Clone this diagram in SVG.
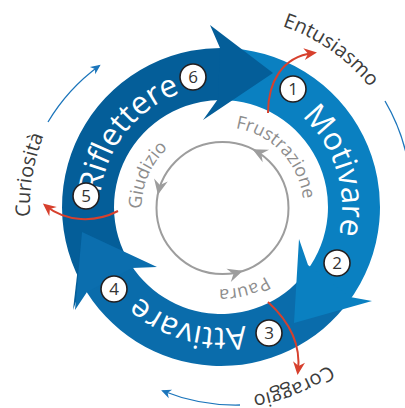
<svg xmlns="http://www.w3.org/2000/svg" width="405" height="408" viewBox="0 0 405 408">
<style>
.band-r{fill:#045e99}
.band-m{fill:#0a80c1}
.band-a{fill:#0a6cab}
.btxt{font-family:"Open Sans","Liberation Sans",sans-serif;font-size:31.5px;fill:#ffffff}
.gtxt{font-family:"Open Sans","Liberation Sans",sans-serif;font-size:18px;fill:#8d8d8d}
.otxt{font-family:"Open Sans","Liberation Sans",sans-serif;font-size:20px;fill:#3c3c3b}
.num circle{fill:#ffffff;stroke:#231f20;stroke-width:1.6}
.num text{font-family:"Open Sans","Liberation Sans",sans-serif;font-size:17px;fill:#333333;text-anchor:middle}
.red{fill:none;stroke:#d7402d;stroke-width:2;marker-end:url(#redHead)}
.blue{fill:none;stroke:#1b75bb;stroke-width:1.3}
.garrow{fill:#9d9d9d}
</style>
<defs>
<path id="pBand" d="M221,86 A121,121 0 1 1 221,328 A121,121 0 1 1 221,86"/>
<path id="pGray" d="M222.5,127 A81,81 0 1 1 222.5,289 A81,81 0 1 1 222.5,127"/>
<path id="pOut" d="M221,16 A191,191 0 1 1 221,398 A191,191 0 1 1 221,16"/>
<marker id="redHead" markerUnits="userSpaceOnUse" markerWidth="16" markerHeight="14" viewBox="-14 -7 16 14" refX="-4" refY="0" orient="auto">
<path d="M0,0 L-13,-6 L-9,0 L-13,6 Z" fill="#d7402d"/>
</marker>
<marker id="blueHead" markerUnits="userSpaceOnUse" markerWidth="12" markerHeight="10" viewBox="-11 -5 12 10" refX="-2" refY="0" orient="auto">
<path d="M0,0 L-10,-4.5 L-7,0 L-10,4.5 Z" fill="#1b75bb"/>
</marker>
<path id="gHead" d="M0,0 L-15,-7 L-10,0 L-15,7 Z"/>
</defs>

<g id="ring">
<path class="band-r" d="M86.17,291.25 A159,159 0 0 1 234.86,48.61 L230.33,100.41 A107,107 0 0 0 130.26,263.70 Z"/>
<path class="band-m" d="M221,48 A159,159 0 0 1 347.98,302.69 L306.45,271.39 A107,107 0 0 0 221,100 Z"/>
<path class="band-a" d="M350.44,299.33 A159,159 0 0 1 81.94,284.09 L127.42,258.87 A107,107 0 0 0 308.11,269.13 Z"/>
<polygon class="band-r" points="220,48 210,25 273,73 203,120 218,99"/>
<polygon class="band-m" points="350,297 372,301 294,323 299,239 308,265"/>
<polygon class="band-r" points="82,232 73,310 78,296"/>
<polygon fill="#0b6eae" points="87,292 75,310 82,232 157,267 132,268"/>
</g>

<g id="band-labels">
<text class="btxt" text-anchor="middle"><textPath href="#pBand" startOffset="20.14%">Motivare</textPath></text>
<text class="btxt" text-anchor="middle"><textPath href="#pBand" startOffset="54.31%">Attivare</textPath></text>
<text class="btxt" text-anchor="middle"><textPath href="#pBand" startOffset="85.69%">Riflettere</textPath></text>
</g>

<g id="connectors">
<circle cx="222.5" cy="208" r="66" fill="none" stroke="#9d9d9d" stroke-width="2"/>
<use href="#gHead" class="garrow" transform="translate(252.5,149.2) rotate(-153)"/>
<use href="#gHead" class="garrow" transform="translate(157.9,194.7) rotate(101.6)"/>
<use href="#gHead" class="garrow" transform="translate(242.9,270.8) rotate(-18)"/>
<path class="red" d="M268,113 C268,82 282,57 313,53"/>
<path class="red" d="M118,211 C95,223 66,222 46,206"/>
<path class="red" d="M268,302 C290,322 301,345 298,371"/>
<path class="blue" d="M48,122 A190,190 0 0 1 99,66" marker-end="url(#blueHead)"/>
<path class="blue" d="M385,101 A193,193 0 0 1 410,175"/>
<path class="blue" d="M240,405 A195,195 0 0 1 163,391" marker-end="url(#blueHead)"/>
</g>

<g id="inner-labels">
<text class="gtxt" text-anchor="middle"><textPath href="#pGray" startOffset="12.92%">Frustrazione</textPath></text>
<text class="gtxt" text-anchor="middle"><textPath href="#pGray" startOffset="81.53%">Giudizio</textPath></text>
<text class="gtxt" text-anchor="middle"><textPath href="#pGray" startOffset="45.83%">Paura</textPath></text>
</g>

<g id="outer-labels">
<text class="otxt" text-anchor="middle"><textPath href="#pOut" startOffset="9.72%">Entusiasmo</textPath></text>
<text class="otxt" text-anchor="middle"><textPath href="#pOut" startOffset="43.89%">Coraggio</textPath></text>
<text class="otxt" text-anchor="middle"><textPath href="#pOut" startOffset="77.64%">Curiosità</textPath></text>
</g>

<g id="n1" class="num"><circle cx="293" cy="89" r="13"/><text x="293" y="95">1</text></g>
<g id="n2" class="num"><circle cx="337" cy="263" r="13"/><text x="337" y="269">2</text></g>
<g id="n3" class="num"><circle cx="269" cy="333" r="13"/><text x="269" y="339">3</text></g>
<g id="n4" class="num"><circle cx="114" cy="289" r="13"/><text x="114" y="295">4</text></g>
<g id="n5" class="num"><circle cx="86" cy="196" r="13"/><text x="86" y="202">5</text></g>
<g id="n6" class="num"><circle cx="193" cy="77" r="13"/><text x="193" y="83">6</text></g>
</svg>
